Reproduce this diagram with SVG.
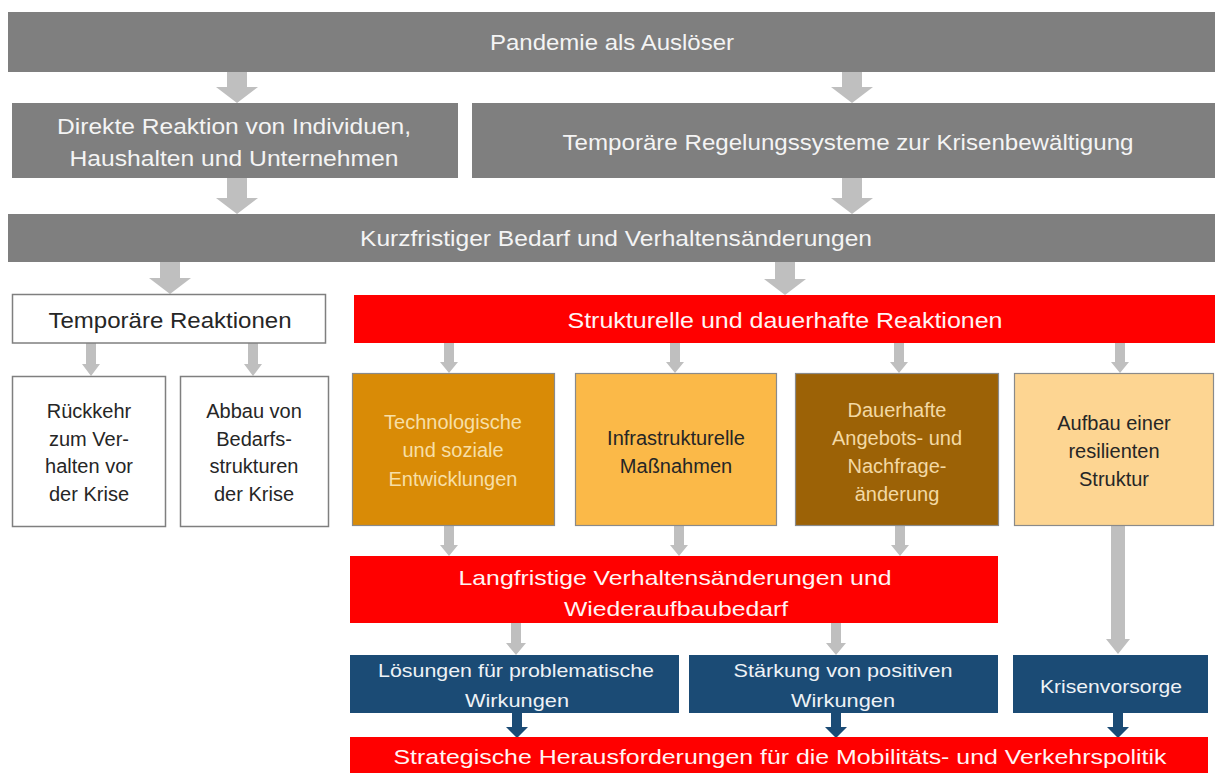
<svg xmlns="http://www.w3.org/2000/svg" width="1215" height="773" viewBox="0 0 1215 773">
<style>
text{font-family:"Liberation Sans",Arial,sans-serif;text-anchor:middle}
.gray{fill:#7f7f7f}
.red{fill:#ff0000}
.blue{fill:#1b4b75}
.wbox{fill:#ffffff;stroke:#7f7f7f;stroke-width:1.5}
.obox{stroke:#8a8a8a;stroke-width:1.2}
.tw{fill:#f4f4f4;font-size:22px}
.tr{fill:#fff4f4;font-size:22px}
.tk{fill:#262626;font-size:22px}
.t19{font-size:20px}
.tb{fill:#eef2f6;font-size:19px}
.ga{fill:#bfbfbf}
.ba{fill:#1b4b75}
</style>
<rect width="1215" height="773" fill="#ffffff"/>

<g id="connectors">
  <!-- big gray arrows -->
  <path class="ga" d="M227,72H247V87H258L237,103L216,87H227Z"/>
  <path class="ga" d="M842,72H862V87H873L852,103L831,87H842Z"/>
  <path class="ga" d="M227,178H247V198H258L237,214L216,198H227Z"/>
  <path class="ga" d="M842,178H862V198H873L852,214L831,198H842Z"/>
  <path class="ga" d="M160,262H180V278H191L170,294L149,278H160Z"/>
  <path class="ga" d="M775,262H795V279H806L785,295L764,279H775Z"/>
  <!-- small gray arrows row 5 -->
  <path class="ga" d="M86,343H96V364H100L91,376L82,364H86Z"/>
  <path class="ga" d="M248,343H258V364H262L253,376L244,364H248Z"/>
  <path class="ga" d="M444,343H454V362H458L449,373L440,362H444Z"/>
  <path class="ga" d="M670,343H680V362H684L675,373L666,362H670Z"/>
  <path class="ga" d="M894,343H904V362H908L899,373L890,362H894Z"/>
  <path class="ga" d="M1115,343H1125V362H1129L1120,373L1111,362H1115Z"/>
  <!-- row 6 -->
  <path class="ga" d="M444,525H454V545H458L449,556L440,545H444Z"/>
  <path class="ga" d="M674,525H684V545H688L679,556L670,545H674Z"/>
  <path class="ga" d="M895,525H905V545H909L900,556L891,545H895Z"/>
  <!-- long arrow -->
  <path class="ga" d="M1111,525H1125V639H1130L1118,654L1106,639H1111Z"/>
  <!-- row 7 -->
  <path class="ga" d="M511,623H521V643H526L516,655L506,643H511Z"/>
  <path class="ga" d="M831,623H841V643H846L836,655L826,643H831Z"/>
  <!-- blue arrows -->
  <path class="ba" d="M512,713H522V727H528L517,738L506,727H512Z"/>
  <path class="ba" d="M831,713H841V727H847L836,738L825,727H831Z"/>
  <path class="ba" d="M1113,713H1123V727H1129L1118,738L1107,727H1113Z"/>
</g>

<g id="pandemie">
  <rect class="gray" x="8" y="12" width="1207" height="60"/>
  <text class="tw" x="612" y="50" textLength="244" lengthAdjust="spacingAndGlyphs">Pandemie als Auslöser</text>
</g>

<g id="direkte">
  <rect class="gray" x="12" y="103" width="446" height="75"/>
  <text class="tw" x="234" y="134" textLength="354" lengthAdjust="spacingAndGlyphs">Direkte Reaktion von Individuen,</text>
  <text class="tw" x="234" y="166" textLength="329" lengthAdjust="spacingAndGlyphs">Haushalten und Unternehmen</text>
</g>

<g id="temporaere-regelung">
  <rect class="gray" x="472" y="103" width="743" height="75"/>
  <text class="tw" x="848" y="150" textLength="571" lengthAdjust="spacingAndGlyphs">Temporäre Regelungssysteme zur Krisenbewältigung</text>
</g>

<g id="kurzfristig">
  <rect class="gray" x="8" y="214" width="1207" height="48"/>
  <text class="tw" x="616" y="246" textLength="512" lengthAdjust="spacingAndGlyphs">Kurzfristiger Bedarf und Verhaltensänderungen</text>
</g>

<g id="temporaere-reaktionen">
  <rect class="wbox" x="12.5" y="294.5" width="313" height="48.5"/>
  <text class="tk" x="170" y="328" textLength="243" lengthAdjust="spacingAndGlyphs">Temporäre Reaktionen</text>
</g>

<g id="strukturelle">
  <rect class="red" x="354" y="295" width="861" height="48"/>
  <text class="tr" x="785" y="328" textLength="435" lengthAdjust="spacingAndGlyphs">Strukturelle und dauerhafte Reaktionen</text>
</g>

<g id="rueckkehr">
  <rect class="wbox" x="12.5" y="376.5" width="153" height="150"/>
  <text class="tk t19" x="89" y="418">Rückkehr</text>
  <text class="tk t19" x="89" y="446">zum Ver-</text>
  <text class="tk t19" x="89" y="473">halten vor</text>
  <text class="tk t19" x="89" y="501">der Krise</text>
</g>

<g id="abbau">
  <rect class="wbox" x="180.5" y="376.5" width="148" height="150"/>
  <text class="tk t19" x="254" y="418">Abbau von</text>
  <text class="tk t19" x="254" y="446">Bedarfs-</text>
  <text class="tk t19" x="254" y="473">strukturen</text>
  <text class="tk t19" x="254" y="501">der Krise</text>
</g>

<g id="technologisch">
  <rect class="obox" x="352.5" y="373.5" width="202" height="152" fill="#d98b06"/>
  <text class="t19" fill="#f7dfa6" x="453" y="429">Technologische</text>
  <text class="t19" fill="#f7dfa6" x="453" y="457">und soziale</text>
  <text class="t19" fill="#f7dfa6" x="453" y="486">Entwicklungen</text>
</g>

<g id="infrastruktur">
  <rect class="obox" x="575.5" y="373.5" width="201" height="152" fill="#fbb948"/>
  <text class="tk t19" x="676" y="445">Infrastrukturelle</text>
  <text class="tk t19" x="676" y="473">Maßnahmen</text>
</g>

<g id="dauerhaft">
  <rect class="obox" x="795.5" y="373.5" width="203" height="152" fill="#9c6206"/>
  <text class="t19" fill="#f3d9a4" x="897" y="417">Dauerhafte</text>
  <text class="t19" fill="#f3d9a4" x="897" y="445">Angebots- und</text>
  <text class="t19" fill="#f3d9a4" x="897" y="473">Nachfrage-</text>
  <text class="t19" fill="#f3d9a4" x="897" y="501">änderung</text>
</g>

<g id="aufbau">
  <rect class="obox" x="1014.5" y="373.5" width="199" height="152" fill="#fdd592"/>
  <text class="tk t19" x="1114" y="430">Aufbau einer</text>
  <text class="tk t19" x="1114" y="458">resilienten</text>
  <text class="tk t19" x="1114" y="486">Struktur</text>
</g>

<g id="langfristig">
  <rect class="red" x="350" y="556" width="648" height="67"/>
  <text class="tr" style="font-size:21px" x="675" y="585" textLength="433" lengthAdjust="spacingAndGlyphs">Langfristige Verhaltensänderungen und</text>
  <text class="tr" style="font-size:21px" x="676" y="616" textLength="224" lengthAdjust="spacingAndGlyphs">Wiederaufbaubedarf</text>
</g>

<g id="loesungen">
  <rect class="blue" x="350" y="655" width="329" height="58"/>
  <text class="tb" x="516" y="677" textLength="276" lengthAdjust="spacingAndGlyphs">Lösungen für problematische</text>
  <text class="tb" x="517" y="707" textLength="104" lengthAdjust="spacingAndGlyphs">Wirkungen</text>
</g>

<g id="staerkung">
  <rect class="blue" x="689" y="655" width="309" height="58"/>
  <text class="tb" x="843" y="677" textLength="219" lengthAdjust="spacingAndGlyphs">Stärkung von positiven</text>
  <text class="tb" x="843" y="707" textLength="104" lengthAdjust="spacingAndGlyphs">Wirkungen</text>
</g>

<g id="krisenvorsorge">
  <rect class="blue" x="1013" y="655" width="195" height="58"/>
  <text class="tb" x="1111" y="693" textLength="142" lengthAdjust="spacingAndGlyphs">Krisenvorsorge</text>
</g>

<g id="strategisch">
  <rect class="red" x="350" y="737" width="858" height="36"/>
  <text class="tr" style="font-size:21px" x="780" y="764" textLength="773" lengthAdjust="spacingAndGlyphs">Strategische Herausforderungen für die Mobilitäts- und Verkehrspolitik</text>
</g>
</svg>
